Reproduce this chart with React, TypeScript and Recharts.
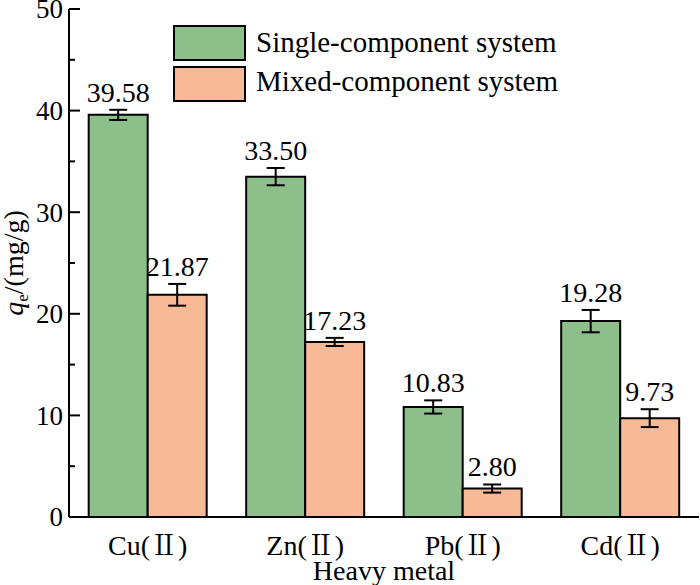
import React from 'react'
import { BarChart, Bar, XAxis, YAxis, ErrorBar, LabelList, Legend, Label } from 'recharts'

const metals = ['Cu(Ⅱ)', 'Zn(Ⅱ)', 'Pb(Ⅱ)', 'Cd(Ⅱ)']
const singleValues = [39.58, 33.5, 10.83, 19.28]
const singleErrors = [0.5, 0.85, 0.65, 1.1]
const mixedValues = [21.87, 17.23, 2.8, 9.73]
const mixedErrors = [1.07, 0.4, 0.4, 0.88]
const seriesNames = ['Single-component system', 'Mixed-component system']
const yTicks = [0, 5, 10, 15, 20, 25, 30, 35, 40, 45, 50]

const FONT = '"Liberation Serif", "Times New Roman", "Noto Serif CJK SC", "Noto Sans CJK SC", serif'
const txt = { fontFamily: FONT, fontSize: 27 }
const GREEN = '#8dbf8b'
const ORANGE = '#f8b996'

const data = metals.map((m, i) => ({
  name: m,
  single: singleValues[i],
  singleErr: singleErrors[i],
  mixed: mixedValues[i],
  mixedErr: mixedErrors[i],
}))

const YTick = (props: any) => {
  const { x, y, payload } = props
  const major = payload.value % 10 === 0
  return (
    <g>
      <line x1={x} x2={x + (major ? 11 : 6)} y1={y} y2={y} stroke="#000" strokeWidth={2} />
      {major && (
        <text x={x - 6} y={y} dy="0.35em" textAnchor="end" style={txt} fill="#000">
          {payload.value}
        </text>
      )}
    </g>
  )
}

const XTick = (props: any) => {
  const { x, y, payload } = props
  return (
    <text x={x} y={y + 30} textAnchor="middle" style={{ ...txt, fontSize: 28 }} fill="#000">
      {payload.value}
    </text>
  )
}

const valueLabel = (errors: number[]) => (props: any) => {
  const vb = props.viewBox ?? props
  const { x, y, width, height } = vb
  const v = Number(props.value)
  const err = errors[props.index] ?? 0
  const top = y - err * (height / v)
  return (
    <text x={x + width / 2} y={top - 8} textAnchor="middle" style={{ ...txt, fontSize: 28 }} fill="#000">
      {v.toFixed(2)}
    </text>
  )
}

const XTitle = (props: any) => {
  const { x, width } = props.viewBox
  return (
    <text x={x + width / 2} y={580} textAnchor="middle" style={{ ...txt, fontSize: 28 }} fill="#000">
      Heavy metal
    </text>
  )
}

const YTitle = () => (
  <text transform="rotate(-90, 23, 263)" x={23} y={263} textAnchor="middle" style={{ ...txt, fontSize: 28 }} fill="#000">
    <tspan fontStyle="italic">q</tspan>
    <tspan style={{ fontSize: 17 }} dy={5}>e</tspan>
    <tspan dy={-5}>/(mg/g)</tspan>
  </text>
)

const LegendBox = (props: any) => {
  const items = props.payload ?? []
  return (
    <svg width={700} height={110}>
      {seriesNames.map((n, i) => {
        const it = items.find((p: any) => p.value === n)
        return (
          <g key={n}>
            <rect x={174} y={26 + i * 41} width={71} height={34} fill={it?.color} stroke="#000" strokeWidth={2} />
            <text x={256} y={52 + i * 39} style={{ ...txt, fontSize: 29 }} fill="#000">
              {n}
            </text>
          </g>
        )
      })}
    </svg>
  )
}

export default function App() {
  return (
    <div style={{ position: 'absolute', left: 0, top: 0, fontFamily: FONT }}>
      <BarChart
        width={700}
        height={585}
        data={data}
        margin={{ top: 9, right: 1, left: 0, bottom: 0 }}
        barCategoryGap="12.5%"
        barGap={0}
      >
        <XAxis
          dataKey="name"
          height={68}
          axisLine={{ stroke: '#000', strokeWidth: 2 }}
          tickLine={false}
          tick={<XTick />}
        >
          <Label content={<XTitle />} />
        </XAxis>
        <YAxis
          width={69}
          domain={[0, 50]}
          ticks={yTicks}
          interval={0}
          tickSize={0}
          tickMargin={0}
          axisLine={{ stroke: '#000', strokeWidth: 2 }}
          tickLine={false}
          tick={<YTick />}
        >
          <Label content={<YTitle />} />
        </YAxis>
        <Legend
          verticalAlign="middle"
          align="center"
          layout="horizontal"
          wrapperStyle={{ position: 'absolute', left: 0, top: 0, width: 700, height: 110 }}
          content={<LegendBox />}
        />
        <Bar dataKey="single" name={seriesNames[0]} fill={GREEN} stroke="#000" strokeWidth={2} isAnimationActive={false}>
          <ErrorBar dataKey="singleErr" width={9} stroke="#000" strokeWidth={2} direction="y" isAnimationActive={false} />
          <LabelList dataKey="single" content={valueLabel(singleErrors)} />
        </Bar>
        <Bar dataKey="mixed" name={seriesNames[1]} fill={ORANGE} stroke="#000" strokeWidth={2} isAnimationActive={false}>
          <ErrorBar dataKey="mixedErr" width={9} stroke="#000" strokeWidth={2} direction="y" isAnimationActive={false} />
          <LabelList dataKey="mixed" content={valueLabel(mixedErrors)} />
        </Bar>
      </BarChart>
    </div>
  )
}
